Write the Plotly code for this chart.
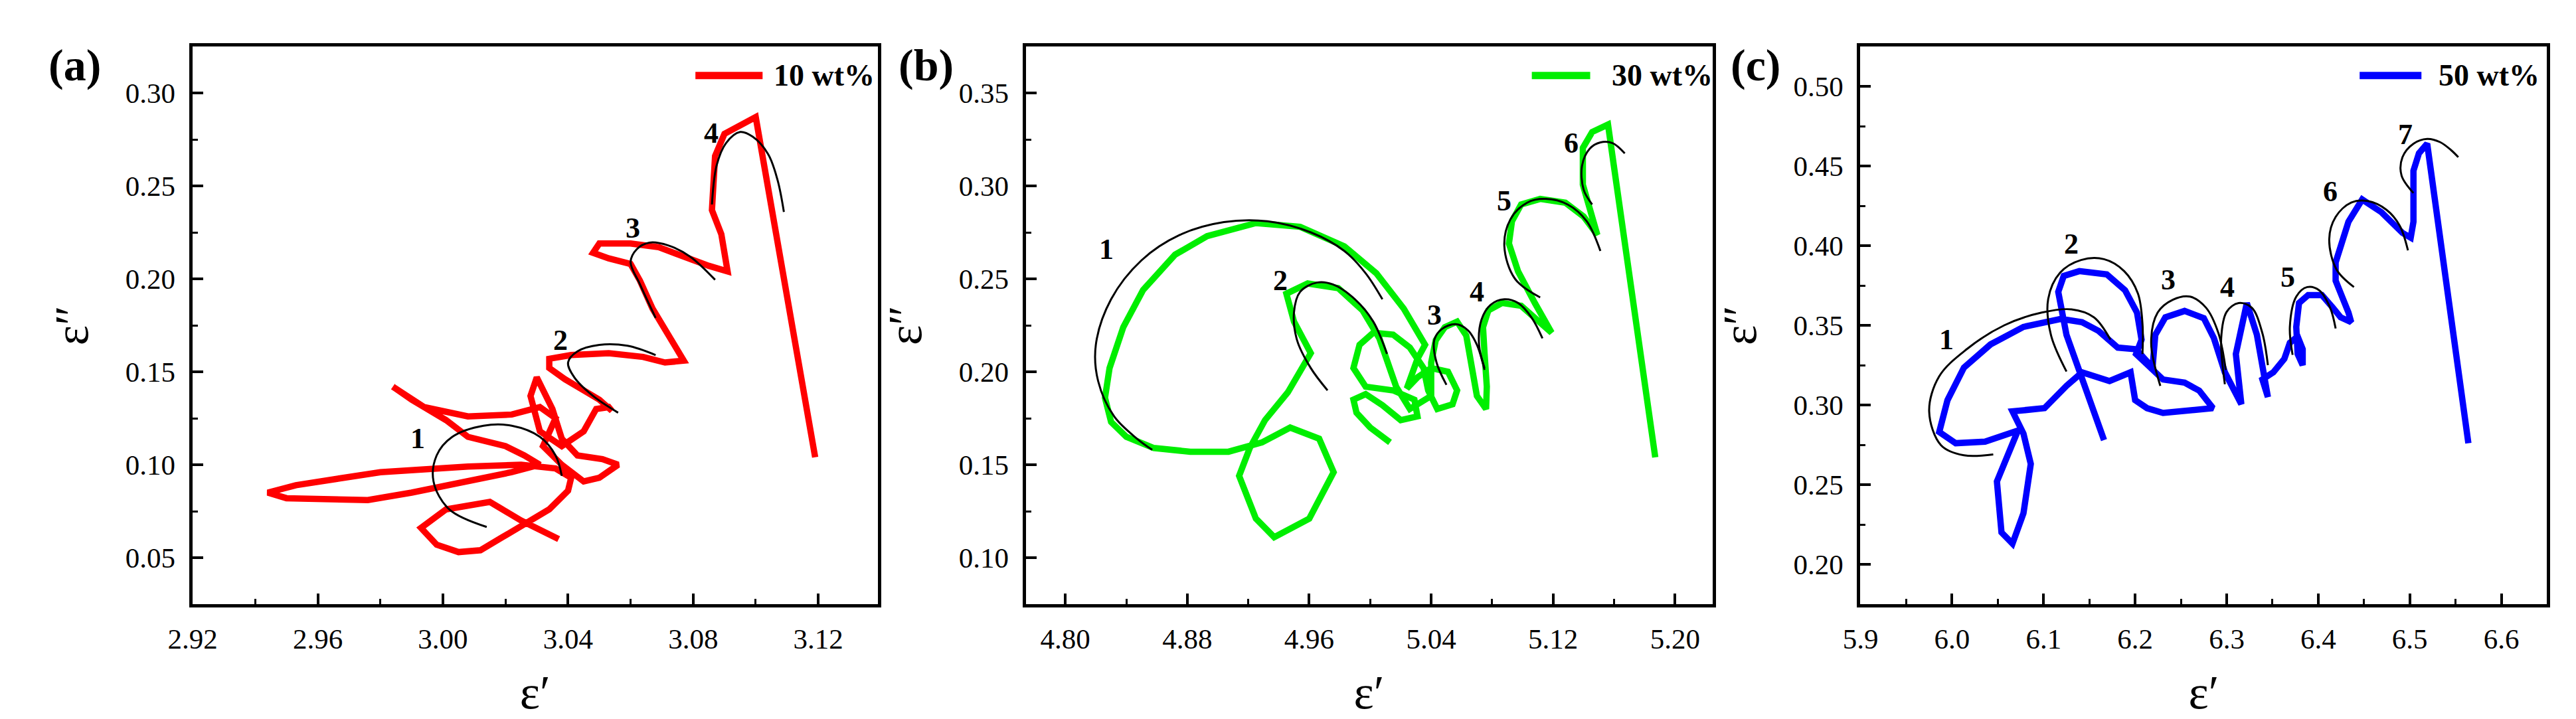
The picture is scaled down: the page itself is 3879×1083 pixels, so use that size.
import plotly.graph_objects as go

FONT = "Liberation Serif"

# ---------------- Panel (a): 10 wt% ----------------
a_x = [3.037, 3.025, 3.015, 3.001, 2.993, 2.998, 3.005, 3.012, 3.019, 3.027,
       3.034, 3.040, 3.041, 3.036, 3.025, 3.008, 2.980, 2.953, 2.944, 2.950,
       2.976, 2.990, 3.008, 3.022, 3.031, 3.026, 3.020, 3.008, 3.001, 2.990,
       2.984, 2.994, 3.008, 3.022, 3.031, 3.036, 3.032, 3.038, 3.045, 3.050,
       3.056, 3.051, 3.043, 3.038, 3.035, 3.030, 3.028, 3.031, 3.038, 3.045,
       3.049, 3.053, 3.054, 3.050, 3.045, 3.039, 3.034, 3.034, 3.041, 3.053,
       3.064, 3.071, 3.077, 3.072, 3.067, 3.063, 3.060, 3.053, 3.048, 3.050,
       3.060, 3.069, 3.078, 3.085, 3.091, 3.089, 3.086, 3.087, 3.090, 3.100,
       3.119]
a_y = [0.060, 0.070, 0.080, 0.076, 0.066, 0.057, 0.053, 0.054, 0.061, 0.069,
       0.076, 0.086, 0.093, 0.098, 0.100, 0.099, 0.096, 0.089, 0.085, 0.082,
       0.081, 0.085, 0.091, 0.096, 0.100, 0.105, 0.110, 0.115, 0.124, 0.135,
       0.142, 0.131, 0.126, 0.127, 0.131, 0.125, 0.110, 0.100, 0.091, 0.093,
       0.100, 0.103, 0.105, 0.114, 0.130, 0.147, 0.137, 0.118, 0.110, 0.118,
       0.130, 0.131, 0.129, 0.135, 0.140, 0.146, 0.152, 0.157, 0.159, 0.160,
       0.158, 0.155, 0.156, 0.170, 0.184, 0.199, 0.208, 0.211, 0.214, 0.219,
       0.219, 0.217, 0.211, 0.207, 0.204, 0.224, 0.237, 0.266, 0.278, 0.287,
       0.104]
a_arcs_x = [
    [3.014, 3.002, 2.997, 2.998, 3.003, 3.013, 3.022, 3.031, 3.036, 3.038],
    [3.056, 3.048, 3.042, 3.040, 3.043, 3.050, 3.059, 3.068],
    [3.068, 3.063, 3.060, 3.062, 3.066, 3.072, 3.079, 3.087],
    [3.086, 3.0875, 3.0905, 3.095, 3.099, 3.104, 3.107, 3.109],
]
a_arcs_y = [
    [0.0665, 0.076, 0.091, 0.105, 0.115, 0.121, 0.121, 0.115, 0.105, 0.094],
    [0.128, 0.137, 0.147, 0.155, 0.161, 0.1645, 0.164, 0.159],
    [0.179, 0.197, 0.209, 0.216, 0.2195, 0.218, 0.212, 0.1995],
    [0.240, 0.261, 0.273, 0.279, 0.2765, 0.267, 0.253, 0.236],
]
a_lab_text = ["1", "2", "3", "4"]
a_lab_x = [2.992, 3.0375, 3.0607, 3.0858]
a_lab_y = [0.114, 0.167, 0.2273, 0.2783]

# ---------------- Panel (b): 30 wt% ----------------
b_x = [5.013, 5.000, 4.991, 4.989, 4.997, 5.008, 5.020, 5.031, 5.029, 5.015,
       4.997, 4.989, 4.993, 5.002, 5.015, 5.026, 5.035, 5.038, 5.044, 5.054,
       5.057, 5.051, 5.040, 5.031, 5.024, 5.031, 5.036, 5.022, 5.004, 4.983,
       4.954, 4.925, 4.893, 4.872, 4.851, 4.838, 4.829, 4.826, 4.830, 4.840,
       4.858, 4.882, 4.907, 4.929, 4.9475, 4.9665, 4.976, 4.960, 4.937, 4.925,
       4.914, 4.921, 4.931, 4.946, 4.961, 4.950, 4.945, 4.959, 4.979, 4.995,
       5.006, 5.011, 5.017, 5.026, 5.040, 5.040, 5.043, 5.049, 5.057, 5.063,
       5.067, 5.070, 5.076, 5.0765, 5.075, 5.074, 5.0775, 5.0865, 5.099, 5.110,
       5.119, 5.108, 5.097, 5.091, 5.093, 5.099, 5.1115, 5.128, 5.140, 5.149,
       5.1445, 5.1395, 5.1395, 5.1456, 5.156, 5.187]
b_y = [0.162, 0.170, 0.178, 0.185, 0.188, 0.182, 0.174, 0.176, 0.185, 0.190,
       0.192, 0.202, 0.2145, 0.221, 0.220, 0.213, 0.202, 0.190, 0.180, 0.1825,
       0.190, 0.200, 0.202, 0.197, 0.191, 0.207, 0.2145, 0.234, 0.253, 0.2675,
       0.278, 0.280, 0.273, 0.263, 0.244, 0.224, 0.202, 0.186, 0.173, 0.165,
       0.159, 0.157, 0.157, 0.162, 0.170, 0.164, 0.146, 0.121, 0.111, 0.121,
       0.144, 0.159, 0.174, 0.189, 0.210, 0.227, 0.242, 0.2475, 0.245, 0.233,
       0.218, 0.206, 0.192, 0.180, 0.187, 0.205, 0.217, 0.224, 0.227, 0.2195,
       0.202, 0.187, 0.180, 0.192, 0.210, 0.224, 0.233, 0.237, 0.2355, 0.227,
       0.221, 0.237, 0.254, 0.269, 0.281, 0.290, 0.293, 0.291, 0.2835, 0.2736,
       0.286, 0.3007, 0.3204, 0.329, 0.333, 0.154]
b_arcs_x = [
    [5.008, 4.997, 4.983, 4.961, 4.9325, 4.904, 4.875, 4.850, 4.830, 4.820, 4.8215, 4.832, 4.847, 4.857],
    [4.972, 4.961, 4.952, 4.950, 4.954, 4.965, 4.9755, 4.990, 5.002, 5.011],
    [5.050, 5.0435, 5.042, 5.047, 5.056, 5.064, 5.070, 5.075],
    [5.075, 5.0714, 5.073, 5.079, 5.088, 5.097, 5.106, 5.113],
    [5.1115, 5.095, 5.088, 5.092, 5.103, 5.115, 5.1295, 5.142, 5.151],
    [5.1456, 5.140, 5.139, 5.144, 5.151, 5.159, 5.167],
]
b_arcs_y = [
    [0.239, 0.253, 0.265, 0.275, 0.281, 0.2805, 0.2736, 0.260, 0.239, 0.2145, 0.195, 0.176, 0.164, 0.158],
    [0.190, 0.202, 0.217, 0.232, 0.243, 0.248, 0.247, 0.239, 0.227, 0.2096],
    [0.193, 0.205, 0.217, 0.223, 0.2256, 0.2224, 0.2145, 0.201],
    [0.202, 0.2145, 0.228, 0.236, 0.239, 0.237, 0.229, 0.218],
    [0.240, 0.250, 0.2675, 0.282, 0.291, 0.293, 0.290, 0.281, 0.265],
    [0.290, 0.298, 0.311, 0.320, 0.3234, 0.323, 0.3175],
]
b_lab_text = ["1", "2", "3", "4", "5", "6"]
b_lab_x = [4.827, 4.941, 5.042, 5.070, 5.088, 5.132]
b_lab_y = [0.266, 0.249, 0.2305, 0.243, 0.292, 0.323]

# ---------------- Panel (c): 50 wt% ----------------
c_x = [6.166, 6.142, 6.125, 6.116, 6.122, 6.139, 6.169, 6.189, 6.202, 6.207,
       6.201, 6.2305, 6.254, 6.270, 6.285, 6.2305, 6.213, 6.200, 6.195, 6.172,
       6.142, 6.125, 6.101, 6.066, 6.078, 6.086, 6.078, 6.066, 6.054, 6.049,
       6.072, 6.036, 6.004, 5.986, 5.995, 6.013, 6.042, 6.078, 6.119, 6.142,
       6.160, 6.181, 6.201, 6.219, 6.222, 6.233, 6.254, 6.275, 6.286, 6.298,
       6.316, 6.310, 6.322, 6.333, 6.341, 6.345, 6.339, 6.351, 6.363, 6.369,
       6.3775, 6.383, 6.383, 6.3775, 6.376, 6.379, 6.389, 6.404, 6.416, 6.4245,
       6.436, 6.433, 6.419, 6.419, 6.433, 6.448, 6.469, 6.492, 6.501, 6.504,
       6.504, 6.510, 6.519, 6.564]
c_y = [0.278, 0.315, 0.344, 0.371, 0.381, 0.384, 0.382, 0.372, 0.358, 0.341,
       0.332, 0.316, 0.314, 0.309, 0.298, 0.295, 0.298, 0.303, 0.3205, 0.315,
       0.3205, 0.312, 0.298, 0.296, 0.282, 0.263, 0.232, 0.213, 0.220, 0.252,
       0.284, 0.277, 0.276, 0.283, 0.303, 0.3235, 0.338, 0.349, 0.354, 0.352,
       0.3465, 0.336, 0.335, 0.3235, 0.344, 0.355, 0.359, 0.3545, 0.342, 0.3205,
       0.3005, 0.332, 0.364, 0.344, 0.3205, 0.305, 0.316, 0.3205, 0.329, 0.339,
       0.343, 0.335, 0.325, 0.332, 0.349, 0.364, 0.369, 0.369, 0.361, 0.355,
       0.352, 0.358, 0.378, 0.3895, 0.415, 0.429, 0.421, 0.408, 0.405, 0.415,
       0.447, 0.458, 0.464, 0.276]
c_arcs_x = [
    [6.045, 6.013, 5.988, 5.975, 5.986, 6.016, 6.057, 6.098, 6.1305, 6.155, 6.173],
    [6.125, 6.108, 6.105, 6.118, 6.141, 6.166, 6.188, 6.203, 6.208, 6.208],
    [6.2275, 6.2175, 6.2246, 6.241, 6.260, 6.2775, 6.291, 6.299],
    [6.298, 6.294, 6.300, 6.313, 6.3275, 6.339, 6.345],
    [6.372, 6.369, 6.376, 6.388, 6.401, 6.413, 6.419],
    [6.439, 6.420, 6.412, 6.419, 6.436, 6.454, 6.4745, 6.489, 6.498],
    [6.504, 6.491, 6.492, 6.504, 6.519, 6.533, 6.545, 6.553],
]
c_arcs_y = [
    [0.269, 0.2684, 0.2747, 0.296, 0.318, 0.335, 0.350, 0.358, 0.360, 0.355, 0.341],
    [0.321, 0.344, 0.3665, 0.383, 0.391, 0.3915, 0.384, 0.370, 0.351, 0.332],
    [0.312, 0.339, 0.358, 0.366, 0.368, 0.361, 0.345, 0.322],
    [0.313, 0.342, 0.3585, 0.364, 0.361, 0.345, 0.325],
    [0.3315, 0.349, 0.368, 0.374, 0.372, 0.361, 0.348],
    [0.374, 0.385, 0.404, 0.418, 0.427, 0.428, 0.4225, 0.4125, 0.397],
    [0.433, 0.444, 0.4555, 0.464, 0.467, 0.465, 0.460, 0.4555],
]
c_lab_text = ["1", "2", "3", "4", "5", "6", "7"]
c_lab_x = [5.994, 6.1305, 6.236, 6.301, 6.367, 6.413, 6.495]
c_lab_y = [0.341, 0.401, 0.3786, 0.374, 0.3803, 0.434, 0.470]

series_names = ["10 wt%", "30 wt%", "50 wt%"]
series_colors = ["#ff0000", "#00ee00", "#0000ff"]
panel_tags = ["(a)", "(b)", "(c)"]

# axis settings
x_ranges = [[2.9199, 3.139], [4.774, 5.2245], [5.8999, 6.65]]
y_ranges = [[0.025, 0.325], [0.075, 0.375], [0.175, 0.525]]
x_dticks = [0.04, 0.08, 0.1]
x_tick0 = [2.92, 4.80, 5.9]
x_fmt = [".2f", ".2f", ".1f"]
y_dticks = [0.05, 0.05, 0.05]
y_tick0 = [0.05, 0.10, 0.20]

W, H = 3879, 1083
x_dom_px = [[247, 1289], [1514, 2558], [2783, 3827]]
y_dom_px = [62, 902]
tag_px = [68, 1362, 2624]
legend_line = [[0.734, 0.832], [0.737, 0.822], [0.727, 0.817]]
legend_text_x = [0.846, 0.851, 0.840]

fig = go.Figure()

panels = [
    (a_x, a_y, a_arcs_x, a_arcs_y, a_lab_text, a_lab_x, a_lab_y),
    (b_x, b_y, b_arcs_x, b_arcs_y, b_lab_text, b_lab_x, b_lab_y),
    (c_x, c_y, c_arcs_x, c_arcs_y, c_lab_text, c_lab_x, c_lab_y),
]

annotations = []
shapes = []
ydom = [1 - y_dom_px[1] / H, 1 - y_dom_px[0] / H]

for i, (px, py, arx, ary, lt, lx, ly) in enumerate(panels):
    xr = "x" if i == 0 else f"x{i+1}"
    yr = "y" if i == 0 else f"y{i+1}"
    fig.add_trace(go.Scatter(x=px, y=py, mode="lines", name=series_names[i],
                             line=dict(color=series_colors[i], width=9.5),
                             xaxis=xr, yaxis=yr, showlegend=False))
    for ax_, ay_ in zip(arx, ary):
        fig.add_trace(go.Scatter(x=ax_, y=ay_, mode="lines",
                                 line=dict(color="black", width=3, shape="spline", smoothing=1.0),
                                 xaxis=xr, yaxis=yr, showlegend=False, hoverinfo="skip"))
    for t, xx, yy in zip(lt, lx, ly):
        annotations.append(dict(text=f"<b>{t}</b>", x=xx, y=yy, xref=xr, yref=yr,
                                showarrow=False, font=dict(family=FONT, size=44, color="black")))
    # legend-like key
    shapes.append(dict(type="line", xref=f"{xr} domain", yref=f"{yr} domain",
                       x0=legend_line[i][0], x1=legend_line[i][1], y0=0.948, y1=0.948,
                       line=dict(color=series_colors[i], width=11)))
    annotations.append(dict(text=f"<b>{series_names[i]}</b>", xref=f"{xr} domain", yref=f"{yr} domain",
                            x=legend_text_x[i], y=0.948, xanchor="left", yanchor="middle",
                            showarrow=False, font=dict(family=FONT, size=46, color="black")))
    annotations.append(dict(text=f"<b>{panel_tags[i]}</b>", xref="paper", yref="paper",
                            x=tag_px[i] / W, y=1 - 90 / H, xanchor="center", yanchor="middle",
                            showarrow=False, font=dict(family=FONT, size=68, color="black")))

    common = dict(showline=True, linewidth=5, linecolor="black", mirror=True,
                  ticks="inside", ticklen=16, tickwidth=4, tickcolor="black",
                  showgrid=False, zeroline=False,
                  tickfont=dict(family=FONT, size=43, color="black"))
    xaxis = dict(domain=[x_dom_px[i][0] / W, x_dom_px[i][1] / W], range=x_ranges[i],
                 dtick=x_dticks[i], tick0=x_tick0[i], tickformat=x_fmt[i],
                 anchor=yr, ticklabelstandoff=10,
                 minor=dict(ticks="inside", ticklen=8, tickwidth=3, tickcolor="black",
                            dtick=x_dticks[i] / 2, tick0=x_tick0[i], showgrid=False),
                 title=dict(text="ε′", font=dict(family=FONT, size=72, color="black"), standoff=34),
                 **common)
    yaxis = dict(domain=ydom, range=y_ranges[i], dtick=y_dticks[i], tick0=y_tick0[i],
                 tickformat=".2f", anchor=xr, ticklabelstandoff=12,
                 minor=dict(ticks="inside", ticklen=8, tickwidth=3, tickcolor="black",
                            dtick=y_dticks[i] / 2, tick0=y_tick0[i], showgrid=False),
                 title=dict(text="ε″", font=dict(family=FONT, size=72, color="black"), standoff=34),
                 **common)
    key = "" if i == 0 else str(i + 1)
    fig.layout[f"xaxis{key}"] = xaxis
    fig.layout[f"yaxis{key}"] = yaxis

fig.update_layout(width=W, height=H, margin=dict(l=0, r=0, t=0, b=0),
                  paper_bgcolor="white", plot_bgcolor="white",
                  annotations=annotations, shapes=shapes, showlegend=False)

fig.write_html("out.html")
